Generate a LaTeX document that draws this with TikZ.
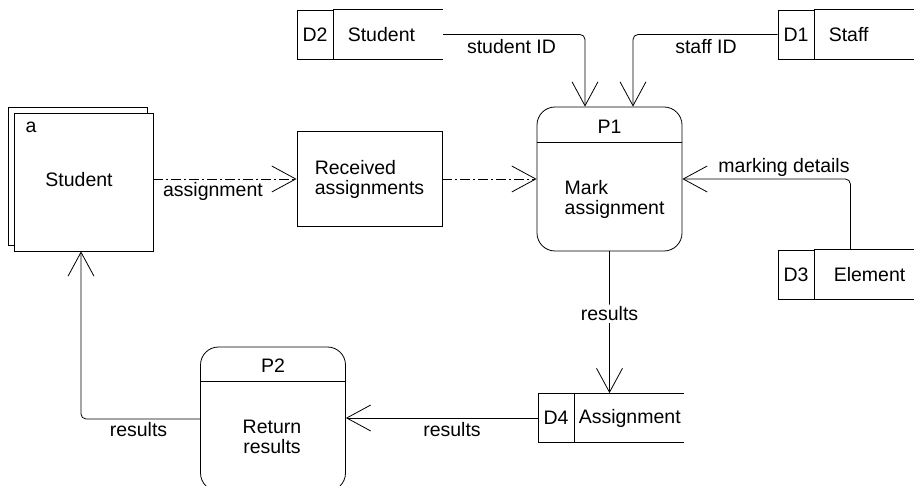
\documentclass[tikz,border=0pt]{standalone}
\usepackage{fontspec}
\setmainfont{Liberation Sans}
\usetikzlibrary{arrows.meta, positioning}

\tikzset{
  flow/.style={-{Straight Barb[length=24pt, width=26pt]}, rounded corners=5pt},
  dashdot/.style={dash pattern=on 10pt off 3pt on 2pt off 3pt},
  entity/.style={draw, minimum width=139pt, minimum height=138pt, inner sep=0pt},
  box/.style={draw, minimum width=145pt, minimum height=95pt},
  process/.style={draw, rounded corners=18pt, minimum width=145pt, minimum height=144pt, inner sep=0pt},
  storeid/.style={draw, minimum width=36pt, minimum height=49pt, inner sep=0pt},
  storename/.style={minimum height=49pt, inner sep=0pt, text width=#1, align=left},
}

\begin{document}
\begin{tikzpicture}[x=1pt, y=-1pt, line width=0.8pt, font=\fontsize{19.5}{20}\selectfont]
    \useasboundingbox (0,0) rectangle (914,486);

    % external entity, drawn twice
    \node [entity] (studentbk) at (77.5,176) {};
    \node [entity, fill=white] (student) at (83.5,182) {};
    \node (studenttxt) at (79,180) {Student};
    \node (studenta) at (31,127) {a};

    \node [box, align=left] (recv) at (369.5,179) {Received\\assignments};

    % processes
    \node [process] (p1) at (609.5,179) {};
    \draw ([yshift=-36]p1.north west) -- ([yshift=-36]p1.north east);
    \node [anchor=base] (p1id) at ([yshift=-27]p1.north) {P1};
    \node [anchor=west, align=left] (p1txt) at (561,199) {Mark\\assignment};

    \node [process] (p2) at (273,419) {};
    \draw ([yshift=-35]p2.north west) -- ([yshift=-35]p2.north east);
    \node [anchor=base] (p2id) at ([yshift=-26]p2.north) {P2};
    \node [align=center] (p2txt) at (272,437) {Return\\results};

    % data stores
    \node [storeid] (d2) at (315,34.5) {D2};
    \node [storename=109pt, right=0pt of d2] (d2n) {\hspace*{14pt}Student};
    \draw (d2.north east) -- (d2n.north east) (d2.south east) -- (d2n.south east);

    \node [storeid] (d1) at (796,34.5) {D1};
    \node [storename=100pt, right=0pt of d1] (d1n) {\hspace*{14pt}Staff};
    \draw (d1.north east) -- (d1n.north east) (d1.south east) -- (d1n.south east);

    \node [storeid] (d3) at (796,274.5) {D3};
    \node [storename=100pt, right=0pt of d3] (d3n) {\hspace*{19pt}Element};
    \draw (d3.north east) -- (d3n.north east) (d3.south east) -- (d3n.south east);

    \node [storeid] (d4) at (556,418) {D4};
    \node [storename=109pt, right=0pt of d4] (d4n) {\hspace*{4pt}Assignment};
    \draw (d4.north east) -- (d4n.north east) (d4.south east) -- (d4n.south east);

    % flows
    \draw [flow, dashdot] (student.east |- recv.west) -- (recv.west);
    \draw [flow, dashdot] (recv.east) -- (p1.west);
    \draw [flow] (d2n.east) -| ([xshift=-24.5]p1.north);
    \draw [flow] (d1.west) -| ([xshift=23.5]p1.north);
    \draw [flow] ([xshift=36]d3n.north west) |- (p1.east);
    \draw [flow] (p1.south) -- node [fill=white, inner sep=2pt, pos=0.44] (lres1) {results} (p1.south |- d4n.north);
    \draw [flow] (d4.west) -- (d4.west -| p2.east);
    \draw [flow] (p2.west) -| ([xshift=-2.5]student.south);

    % flow labels
    \node [anchor=base] (lassign) at (213,197) {assignment};
    \node [anchor=base] (lstud) at (511.5,54) {student ID};
    \node [anchor=base] (lstaff) at (706,54) {staff ID};
    \node [anchor=base] (lmark) at (784,173) {marking details};
    \node [anchor=base] (lres2) at (452,437) {results};
    \node [anchor=base] (lres3) at (138.5,437) {results};
\end{tikzpicture}
\end{document}
